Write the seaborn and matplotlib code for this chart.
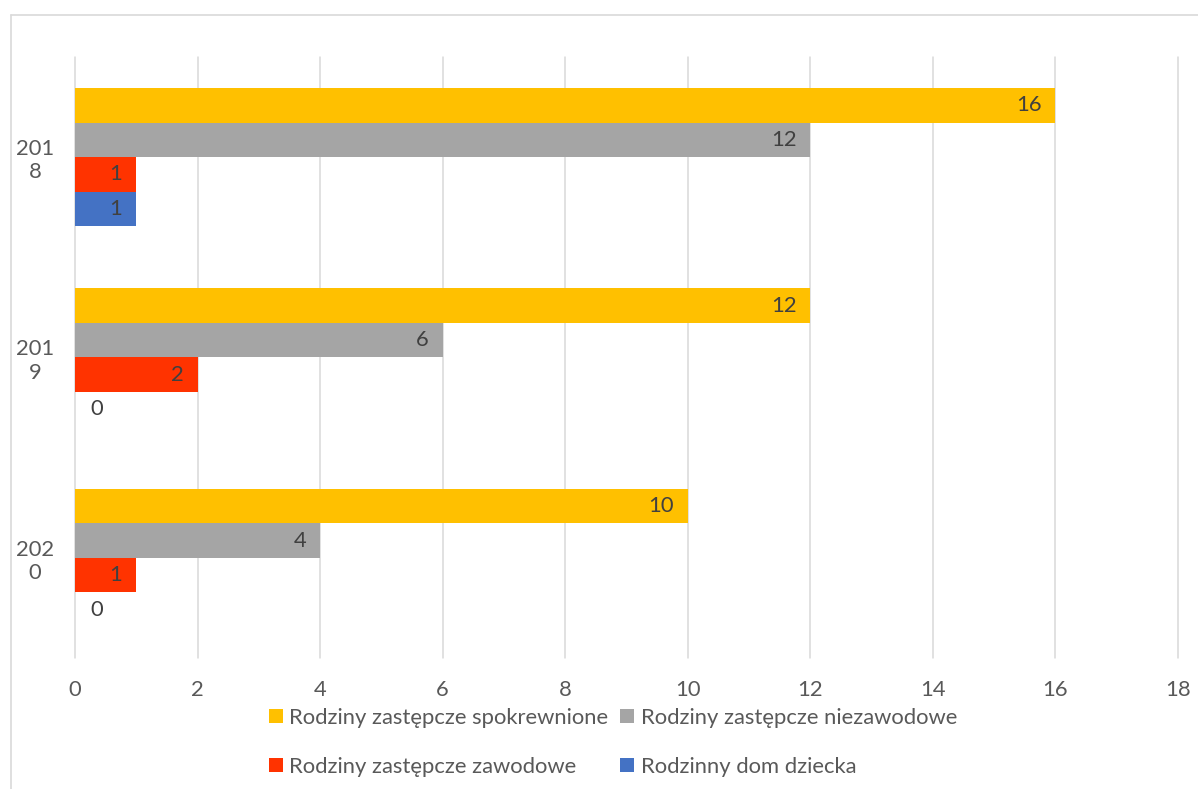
import matplotlib
matplotlib.use("Agg")
import matplotlib.pyplot as plt
import seaborn as sns
import pandas as pd
from matplotlib.lines import Line2D

# ---- data ----
years = ["2018", "2019", "2020"]
year_labels = ["201\n8", "201\n9", "202\n0"]
series = ["Rodziny zastępcze spokrewnione", "Rodziny zastępcze niezawodowe",
          "Rodziny zastępcze zawodowe", "Rodzinny dom dziecka"]
spokrewnione = [16, 12, 10]
niezawodowe = [12, 6, 4]
zawodowe = [1, 2, 1]
dom_dziecka = [1, 0, 0]
colors = ["#FFC000", "#A5A5A5", "#FF3300", "#4472C4"]
xticks = [0, 2, 4, 6, 8, 10, 12, 14, 16, 18]

rows = []
for s, vals in zip(series, [spokrewnione, niezawodowe, zawodowe, dom_dziecka]):
    for y, v in zip(years, vals):
        rows.append({"rok": y, "seria": s, "wartosc": v})
df = pd.DataFrame(rows)

sns.set_theme(style="white")
plt.rcParams["font.family"] = ["Lato", "DejaVu Sans"]
FS = 15.8
TXT = "#595959"

fig = plt.figure(figsize=(11.98, 7.89), dpi=100)
ax = fig.add_axes([75/1198, 1-658/789, (1178-75)/1198, (658-57)/789])

sns.barplot(data=df, x="wartosc", y="rok", hue="seria", order=years,
            hue_order=series, palette=colors, orient="h", width=0.69,
            saturation=1, ax=ax, legend=True, errorbar=None, linewidth=0)

ax.set_xlim(0, 18)
ax.set_ylim(2.5, -0.5)
ax.set_xticks(xticks)
ax.set_xticklabels([str(t) for t in xticks])
ax.set_yticks(range(len(years)))
ax.set_yticklabels(year_labels, multialignment="center")
ax.set_xlabel("")
ax.set_ylabel("")
ax.tick_params(axis="x", length=0, pad=16, labelsize=FS, labelcolor=TXT)
ax.tick_params(axis="y", length=0, pad=15, labelsize=FS, labelcolor=TXT)
for sp in ax.spines.values():
    sp.set_visible(False)
ax.grid(axis="x", color="#D9D9D9", linewidth=1.1)
ax.set_axisbelow(True)
for gl in ax.get_xgridlines():
    gl.set_clip_on(False)

# bar labels (inside end)
for p in ax.patches:
    w = p.get_width()
    if p.get_height() == 0:
        continue
    yc = p.get_y() + p.get_height()/2
    if w > 0:
        ax.annotate(f"{w:.0f}", (w, yc), xytext=(-10, 0), textcoords="offset points",
                    ha="right", va="center", fontsize=FS, color="#404040")
    else:
        p.set_visible(False)
        ax.annotate(f"{w:.0f}", (w, yc), xytext=(11, 0), textcoords="offset points",
                    ha="left", va="center", fontsize=FS, color="#404040")

# legend (row-major order: reorder for column-major filling)
handles, labels = ax.get_legend_handles_labels()
ax.get_legend().remove()
order = [0, 2, 1, 3]
fig.legend([handles[i] for i in order], [labels[i] for i in order], ncol=2,
           loc="upper left",
           bbox_to_anchor=(269/1198, 1-708/789), bbox_transform=fig.transFigure,
           frameon=False, fontsize=FS, labelcolor=TXT,
           handlelength=0.62, handleheight=0.62, handletextpad=0.3,
           columnspacing=0.55, labelspacing=1.3, borderaxespad=0, borderpad=0)

# outer frame
fig.add_artist(Line2D([11/1198, 11/1198], [0, 1-15/789], color="#D9D9D9", lw=1.2,
                      transform=fig.transFigure))
fig.add_artist(Line2D([11/1198, 1], [1-15/789, 1-15/789], color="#D9D9D9", lw=1.2,
                      transform=fig.transFigure))

fig.savefig("out.png", dpi=100)
